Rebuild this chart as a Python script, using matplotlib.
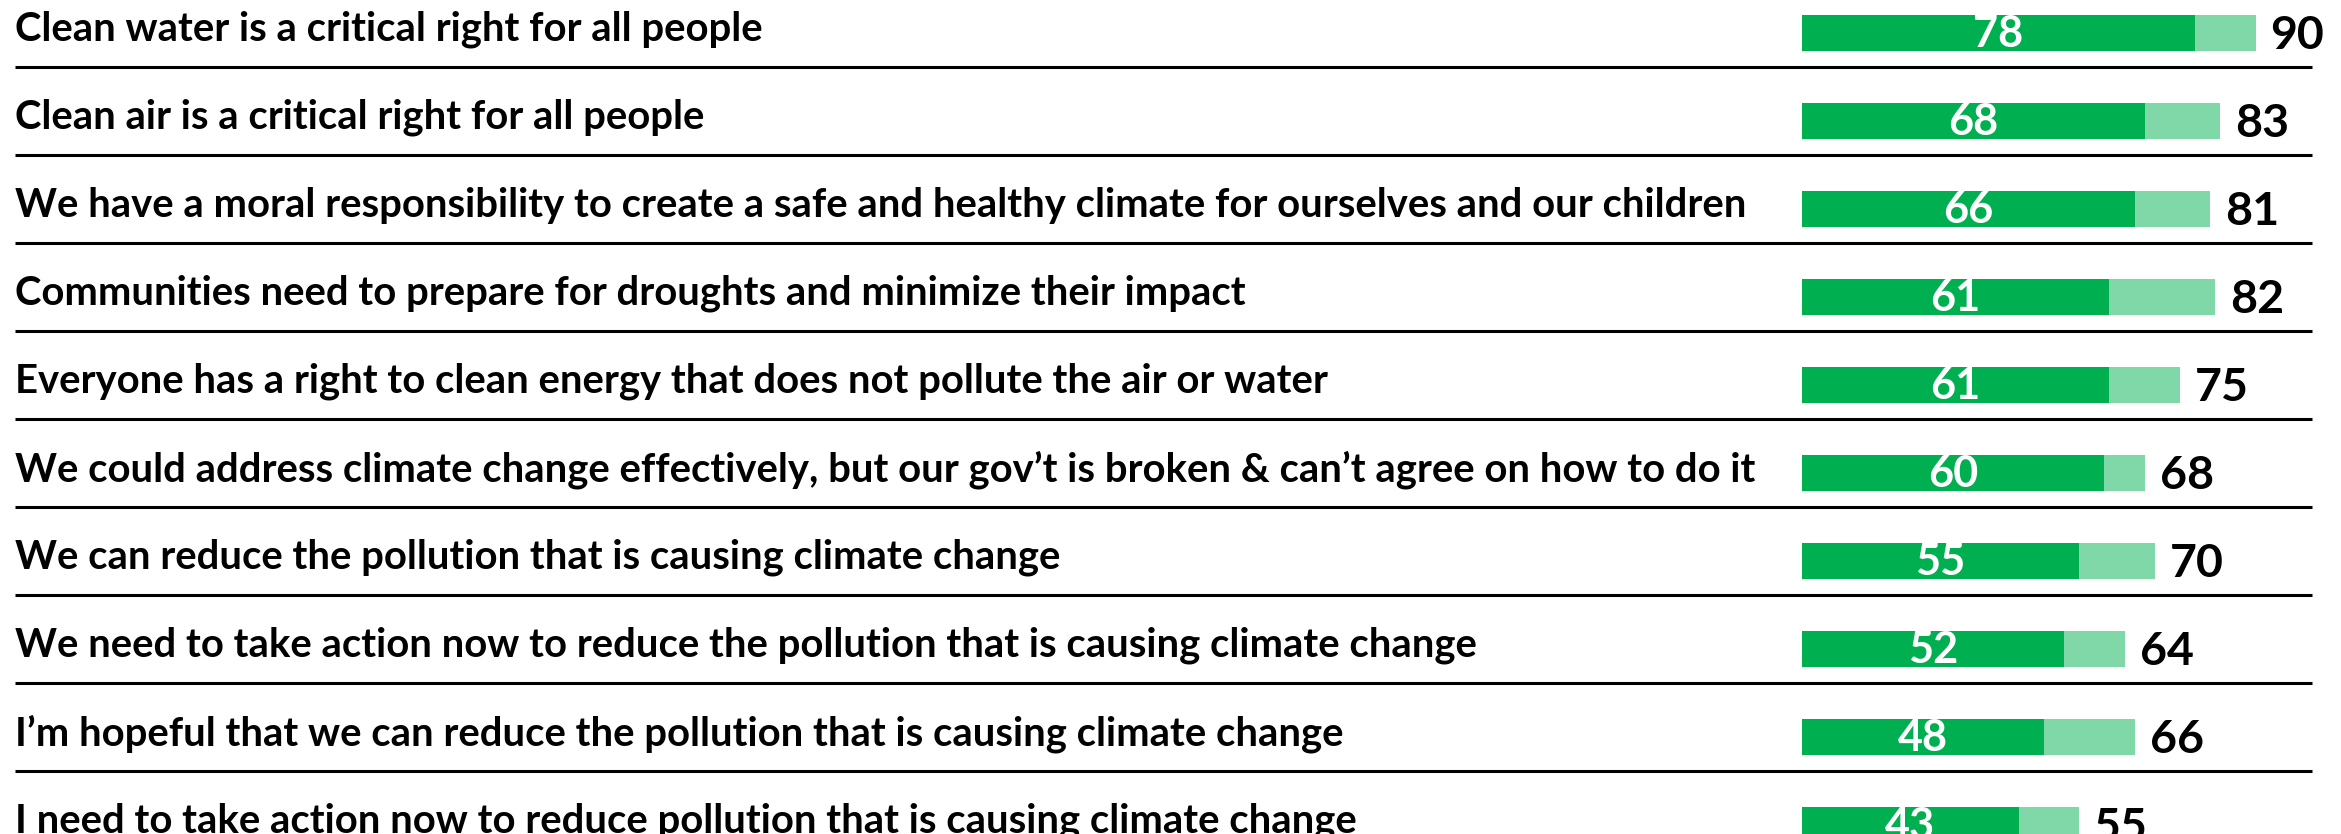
import matplotlib
matplotlib.use("Agg")
import matplotlib.pyplot as plt

# survey statements, top to bottom
statements = [
    "Clean water is a critical right for all people",
    "Clean air is a critical right for all people",
    "We have a moral responsibility to create a safe and healthy climate for ourselves and our children",
    "Communities need to prepare for droughts and minimize their impact",
    "Everyone has a right to clean energy that does not pollute the air or water",
    "We could address climate change effectively, but our gov\u2019t is broken & can\u2019t agree on how to do it",
    "We can reduce the pollution that is causing climate change",
    "We need to take action now to reduce the pollution that is causing climate change",
    "I\u2019m hopeful that we can reduce the pollution that is causing climate change",
    "I need to take action now to reduce pollution that is causing climate change",
]
strong = [78, 68, 66, 61, 61, 60, 55, 52, 48, 43]
total = [90, 83, 81, 82, 75, 68, 70, 64, 66, 55]

dark_green = "#00B050"
light_green = "#80D8A8"
font = "Lato"

W, H, dpi = 2341, 834, 100
fig = plt.figure(figsize=(W / dpi, H / dpi), dpi=dpi)
ax = fig.add_axes([0, 0, 1, 1])

# pixel layout of the original slide
bar_x0 = 1802      # px where value 0 sits
px_per_unit = 5.04
row0 = 33          # px from top of first row centre
row_step = 88
ax.set_xlim(-bar_x0 / px_per_unit, (W - bar_x0) / px_per_unit)
ax.set_ylim((H - row0) / row_step, -row0 / row_step)
ax.axis("off")

rows = range(len(statements))
ax.barh(rows, total, height=0.40, color=light_green, left=0)
ax.barh(rows, strong, height=0.40, color=dark_green, left=0)

text_x = -(bar_x0 - 15) / px_per_unit
line_x1 = (2312 - bar_x0) / px_per_unit

# fit statement font so the longest line spans the same width as the slide
probe = ax.text(0, 0, max(statements, key=len), fontsize=20, fontweight="bold", family=font)
fig.canvas.draw()
w = probe.get_window_extent().width
probe.remove()
fs = 20 * 1729 / w

for i, s in enumerate(statements):
    ax.text(text_x, i - 0.04, s, ha="left", va="center", fontsize=fs,
            fontweight="bold", family=font, color="black")
    ax.text(strong[i] / 2, i + 0.01, str(strong[i]), ha="center", va="center",
            fontsize=fs * 1.08, fontweight="bold", color="white", family=font)
    ax.text(total[i] + 15 / px_per_unit, i + 0.03, str(total[i]), ha="left", va="center",
            fontsize=fs * 1.16, fontweight="bold", family=font, color="black")
    if i < len(statements) - 1:
        ax.plot([text_x, line_x1], [i + 0.39, i + 0.39], color="black", lw=2.2,
                solid_capstyle="butt")

fig.savefig("out.png", dpi=dpi)
